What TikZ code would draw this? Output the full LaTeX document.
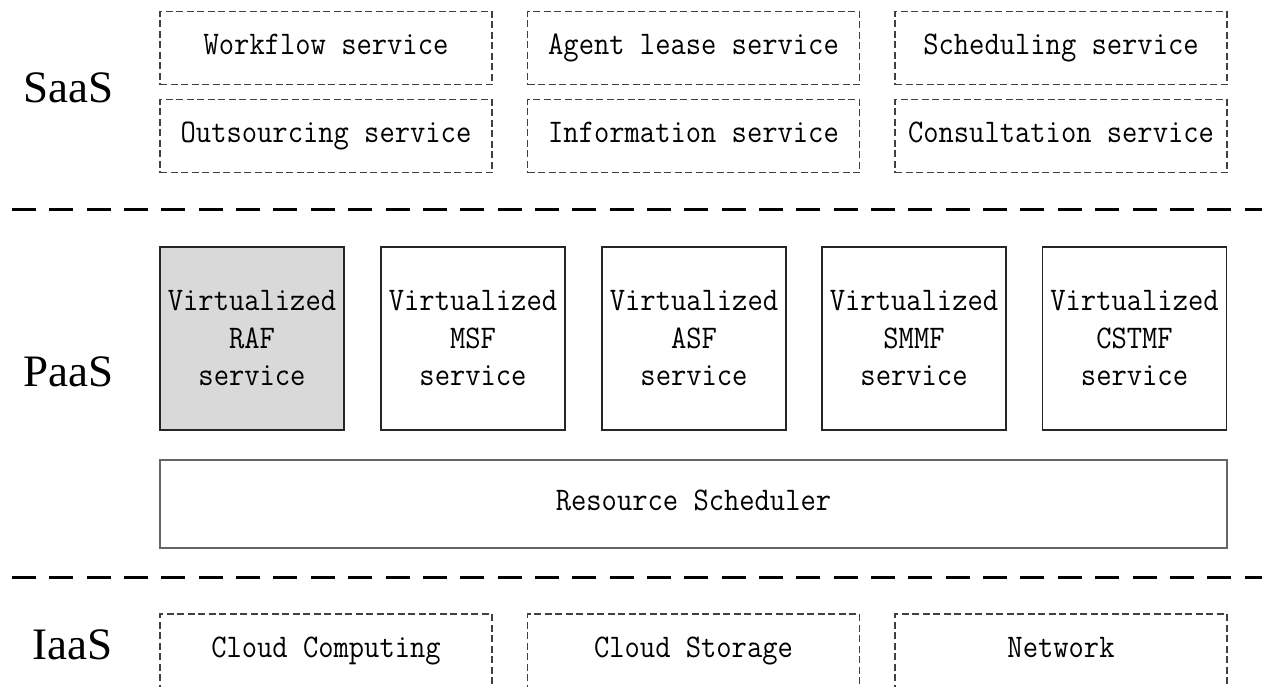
\documentclass[tikz,border=0pt]{standalone}
\usepackage{fontspec}
\newfontfamily\lblfont{Liberation Serif}
\newfontfamily\monofont{lmmono12-regular}[Extension=.otf, FakeStretch=0.9]
\begin{document}
\begin{tikzpicture}[x=0.5pt,y=-0.5pt,
  mono/.style={font=\monofont\fontsize{16.5pt}{18.75pt}\selectfont},
  sbox/.style={mono, draw=black!75, line width=0.55pt, dash pattern=on 3.5pt off 1.75pt,
    minimum width=166pt, minimum height=36.5pt, inner sep=0pt,
    text height=0.62em, text depth=0pt},
  pbox/.style={mono, draw=black!85, line width=0.6pt, minimum width=92pt,
    minimum height=91.5pt, inner sep=0pt, align=center},
  rbox/.style={mono, draw=black!60, line width=0.6pt, minimum width=533.5pt,
    minimum height=44pt, inner sep=0pt, text height=0.62em, text depth=0pt},
  layer/.style={font=\lblfont\fontsize{22.5pt}{27pt}\selectfont, inner sep=0pt, anchor=base east},
  sep/.style={line width=1.5pt, dash pattern=on 12pt off 6.675pt}
]
\path[use as bounding box] (0,0) rectangle (1262,686);
\clip (0,0) rectangle (1262,686);

% layer labels
\node[layer] (saas) at (113.5,102) {SaaS};
\node[layer] (paas) at (114,386) {PaaS};
\node[layer] (iaas) at (113,659) {IaaS};

% SaaS services
\node[sbox] (wf) at (326,48) {Workflow service};
\node[sbox] (al) at (693.5,48) {Agent lease service};
\node[sbox] (sc) at (1061,48) {Scheduling service};
\node[sbox] (os) at (326,136) {Outsourcing service};
\node[sbox] (is) at (693.5,136) {Information service};
\node[sbox] (cs) at (1061,136) {Consultation service};

% separators
\coordinate (s1a) at (12,209.5);
\coordinate (s1b) at (1262,209.5);
\coordinate (s2a) at (12,577);
\coordinate (s2b) at (1262,577);
\draw[sep] (s1a) -- (s1b);
\draw[sep] (s2a) -- (s2b);

% PaaS
\node[pbox, fill=black!15] (raf) at (252,338.5) {Virtualized\\RAF\\service};
\node[pbox] (msf) at (473,338.5) {Virtualized\\MSF\\service};
\node[pbox] (asf) at (694,338.5) {Virtualized\\ASF\\service};
\node[pbox] (smmf) at (914,338.5) {Virtualized\\SMMF\\service};
\node[pbox] (cstmf) at (1134.5,338.5) {Virtualized\\CSTMF\\service};
\node[rbox] (rs) at (693.5,504) {Resource Scheduler};

% IaaS
\node[sbox, minimum height=37pt] (cc) at (326,651) {Cloud Computing};
\node[sbox, minimum height=37pt] (cst) at (693.5,651) {Cloud Storage};
\node[sbox, minimum height=37pt] (nw) at (1061,651) {Network};
\end{tikzpicture}
\end{document}
